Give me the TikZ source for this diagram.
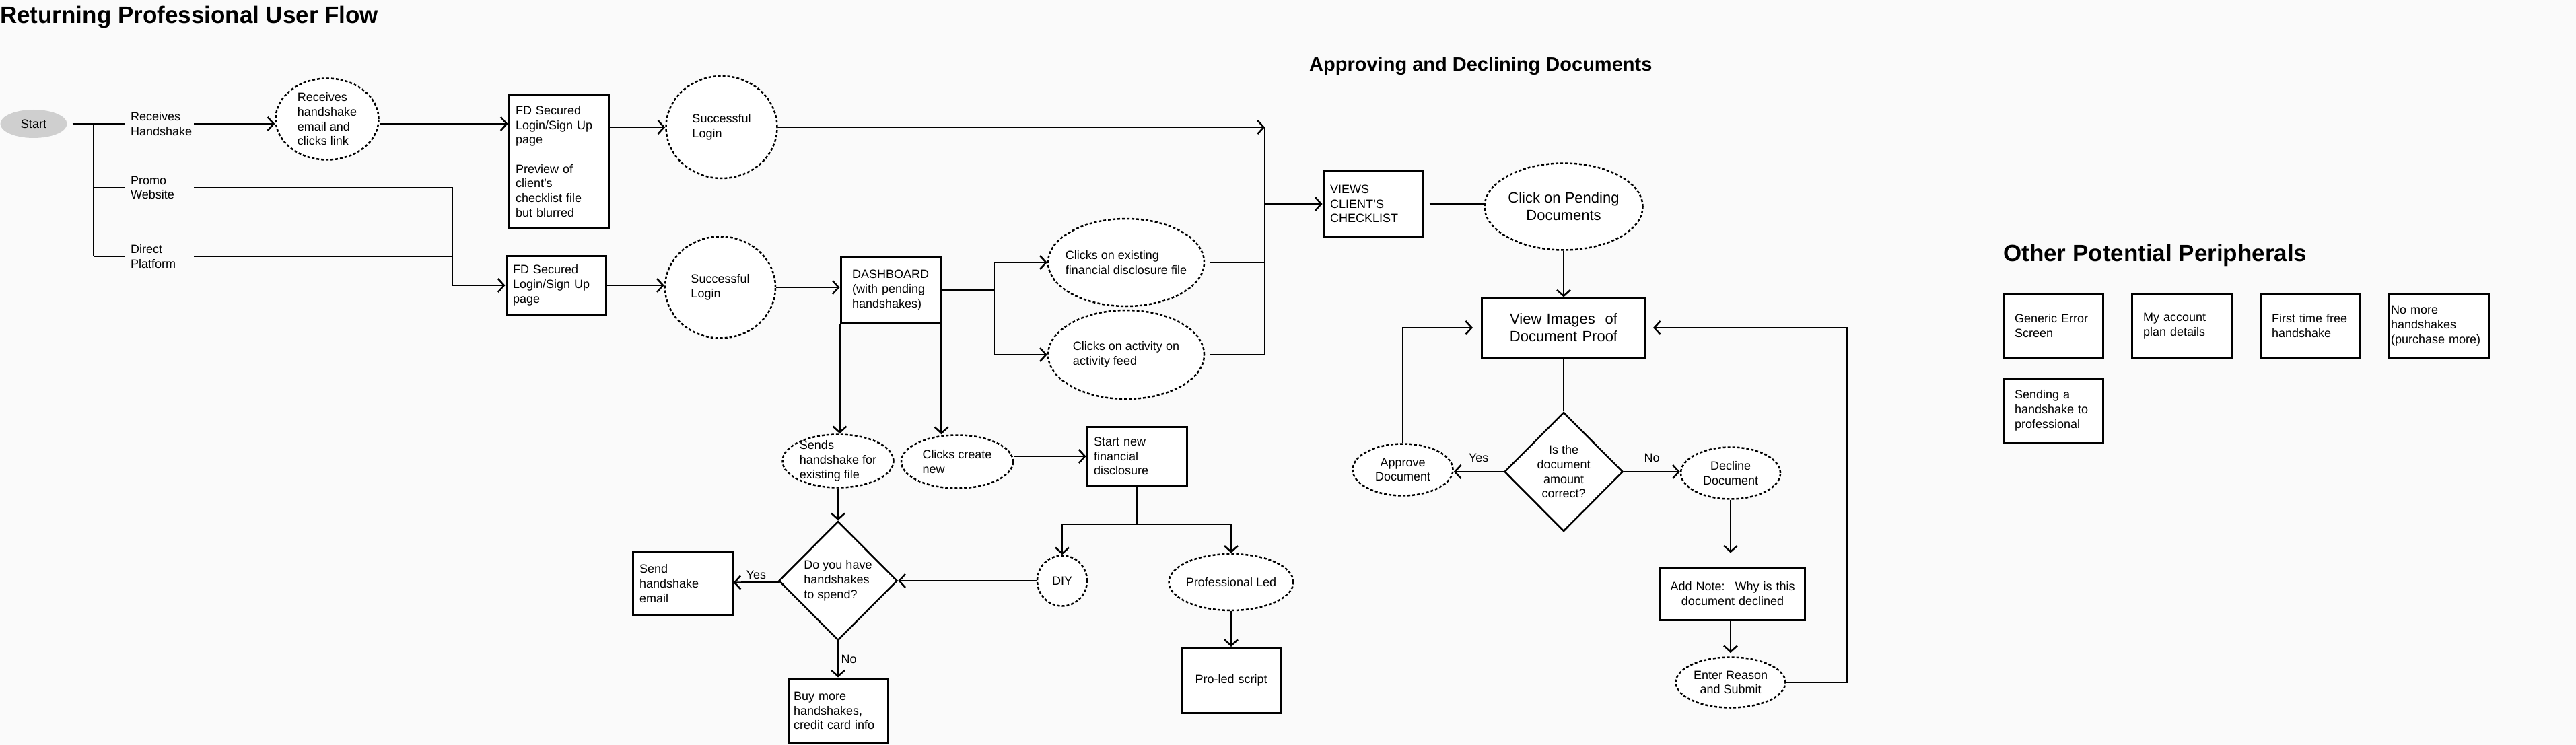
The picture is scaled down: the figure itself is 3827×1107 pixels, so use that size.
\documentclass[tikz,border=0pt]{standalone}
\usepackage{fontspec}
\setmainfont{Liberation Sans}
\usepackage{tikz}
\usetikzlibrary{shapes.geometric, arrows.meta, positioning}
\definecolor{canvas}{RGB}{250,250,250}
\definecolor{startgray}{RGB}{207,207,207}
\tikzstyle{heading} = [font=\bfseries\fontsize{35}{40}\selectfont, anchor=base west, inner sep=0pt]
\tikzstyle{entry} = [align=left, text width=86pt, inner sep=8pt, anchor=west]
\tikzstyle{block} = [rectangle, line width=3pt, draw=black, fill=white, minimum width=148pt, minimum height=97pt, text width=128pt, align=left, inner sep=0pt]
\tikzstyle{action} = [ellipse, line width=2.5pt, dash pattern=on 4pt off 3pt, draw=black, fill=white, align=left, inner sep=0pt]
\tikzstyle{decision} = [diamond, aspect=1, line width=2.5pt, draw=black, fill=white, minimum width=176pt, minimum height=177pt, inner sep=0pt]
\tikzstyle{periph} = [block, minimum height=96pt, text width=114pt]
\tikzstyle{link} = [line width=2.5pt]
\tikzstyle{arrow} = [line width=2.5pt, -{Straight Barb[length=9pt, width=20pt]}]

\begin{document}
\begin{tikzpicture}[x=1pt, y=-1pt, font=\fontsize{18}{21.7}\selectfont]
	\fill[canvas] (0,0) rectangle (3827,1107);
	\useasboundingbox (0,0) rectangle (3827,1107);

	% returning professional flow
	\node (FlowTitle) [heading] at (0,35) {Returning Professional User Flow};
	\node (Start) [ellipse, fill=startgray, minimum width=99pt, minimum height=42pt] at (50,184) {Start};
	\coordinate (StartFork) at (139,184);
	\node (Receives) [entry] at (186,184) {Receives\\Handshake};
	\node (Promo) [entry] at (186,279) {Promo\\Website};
	\node (Direct) [entry] at (186,381) {Direct\\Platform};
	\node (ClicksLink) [action, minimum width=153pt, minimum height=121pt] at (486,177) {Receives\\handshake\\email and\\clicks link};
	\node (LoginPreview) [block, minimum height=198pt] at (830,240) {FD Secured\\Login/Sign Up\\page\\[21.7pt]Preview of\\client's\\checklist file\\but blurred};
	\node (LoginA) [action, minimum width=165pt, minimum height=152pt] at (1072,189) {Successful\\Login};
	\node (LoginPage) [block, minimum height=88pt] at (826,424) {FD Secured\\Login/Sign Up\\page};
	\node (LoginB) [action, minimum width=164pt, minimum height=151pt] at (1070,427) {Successful\\Login};
	\node (Dashboard) [block, text width=114pt] at (1323,431) {DASHBOARD\\(with pending\\handshakes)};
	\node (ExistingFile) [action, inner xsep=-20pt, minimum width=232pt, minimum height=130pt] at (1673,390) {Clicks on existing\\financial disclosure file};
	\node (ActivityFeed) [action, minimum width=232pt, minimum height=132pt] at (1673,527) {Clicks on activity on\\activity feed};
	\node (SendsFile) [action, inner ysep=-4pt, minimum width=165pt, minimum height=79pt] at (1245,685) {Sends\\handshake for\\existing file};
	\node (CreateNew) [action, minimum width=166pt, minimum height=79pt] at (1422,686) {Clicks create\\new};
	\node (StartNew) [block, minimum height=88pt] at (1689,678) {Start new\\financial\\disclosure};
	\node (HaveHandshakes) [decision, align=left] at (1245,863) {Do you have\\handshakes\\to spend?};
	\node (SendEmail) [block, minimum height=95pt] at (1014,867) {Send\\handshake\\email};
	\node (BuyMore) [block, text width=132pt, minimum height=96pt] at (1245,1056) {Buy more\\handshakes,\\credit card info};
	\node (DIY) [action, minimum width=74pt, minimum height=75pt] at (1578,863) {DIY};
	\node (ProLed) [action, inner xsep=-6pt, minimum width=185pt, minimum height=84pt] at (1829,865) {Professional Led};
	\node (ProScript) [block, align=center] at (1829,1011) {Pro-led script};

	% approving and declining
	\node (ApproveTitle) [heading, font=\bfseries\fontsize{29}{33}\selectfont] at (1945,106) {Approving and Declining Documents};
	\node (Checklist) [block] at (2040,303) {VIEWS\\CLIENT'S\\CHECKLIST};
	\node (Pending) [action, align=center, font=\fontsize{22}{26}\selectfont, minimum width=235pt, minimum height=129pt] at (2323,307) {Click on Pending\\Documents};
	\node (ViewImages) [block, align=center, text width=215pt, minimum width=243pt, minimum height=88pt, font=\fontsize{22}{26}\selectfont] at (2323,487) {View Images~ of\\Document Proof};
	\node (IsCorrect) [decision, align=center] at (2323,701) {Is the\\document\\amount\\correct?};
	\node (Approve) [action, align=center, minimum width=149pt, minimum height=77pt] at (2084,698) {Approve\\Document};
	\node (Decline) [action, align=center, minimum width=148pt, minimum height=77pt] at (2571,703) {Decline\\Document};
	\node (AddNote) [block, align=center, text width=200pt, minimum width=215pt, minimum height=78pt] at (2574,882) {Add Note:~ Why is this\\document declined};
	\node (EnterReason) [action, align=center, minimum width=163pt, minimum height=75pt] at (2571,1014) {Enter Reason\\and Submit};
	\coordinate (LoopBack) at (2744,1014);

	\draw [link, shorten <=8pt] (Start) -- (Receives);
	\draw [link] (StartFork) -- (StartFork |- Direct.west);
	\draw [link] (StartFork |- Promo.west) -- (Promo);
	\draw [link] (StartFork |- Direct.west) -- (Direct);
	\draw [arrow] (Receives) -- (Receives -| ClicksLink.west);
	\draw [arrow] (ClicksLink.east |- Receives.east) -- (LoginPreview.west |- Receives.east);
	\draw [arrow] (LoginPreview.east |- LoginA) -- (LoginA);
	\coordinate (MergeTop) at (1879,189);
	\draw [arrow] (LoginA) -- (MergeTop);
	\draw [link] (MergeTop) -- (MergeTop |- ActivityFeed);
	\draw [arrow] (MergeTop |- Checklist) -- (Checklist);
	\coordinate (PromoBend) at (672,279);
	\draw [arrow] (Promo) -- (PromoBend) |- (LoginPage);
	\draw [link] (Direct) -- (Direct -| PromoBend);
	\draw [arrow] (LoginPage) -- (LoginPage -| LoginB.west);
	\draw [arrow] (LoginB) -- (LoginB -| Dashboard.west);
	\coordinate (DashFork) at (1477,431);
	\draw [link] (Dashboard) -- (DashFork);
	\draw [arrow] (DashFork) |- (ExistingFile);
	\draw [arrow] (DashFork) |- (ActivityFeed);
	\draw [link, shorten <=8pt] (ExistingFile) -- (ExistingFile -| MergeTop);
	\draw [link, shorten <=8pt] (ActivityFeed) -- (ActivityFeed -| MergeTop);
	\draw [arrow] (Dashboard.south west) -- (Dashboard.south west |- SendsFile.north);
	\draw [arrow] (Dashboard.south east) -- (Dashboard.south east |- CreateNew.north);
	\draw [arrow] (StartNew.west -| CreateNew.east) -- (StartNew);
	\coordinate (NewSplit) at (1689,779);
	\draw [link] (StartNew) -- (NewSplit);
	\draw [arrow] (NewSplit) -| (DIY);
	\draw [arrow] (NewSplit) -| (ProLed);
	\draw [arrow] (DIY) -- (HaveHandshakes);
	\draw [arrow] (ProLed) -- (ProScript);
	\draw [arrow] (SendsFile) -- (HaveHandshakes);
	\draw [arrow] (HaveHandshakes) -- node[above]{Yes} (SendEmail);
	\draw [arrow] (HaveHandshakes) -- node[right]{No} (BuyMore);

	\draw [link, shorten <=8pt] (Checklist) -- (Checklist -| Pending.west);
	\draw [arrow] (Pending) -- (ViewImages);
	\draw [link] (ViewImages) -- (IsCorrect);
	\draw [arrow] (IsCorrect) -- node[above=10pt]{Yes} (IsCorrect -| Approve.east);
	\draw [arrow] (IsCorrect) -- node[above=10pt]{No} (IsCorrect -| Decline.west);
	\draw [arrow, shorten >=12pt] (Approve) |- (ViewImages);
	\draw [arrow, shorten >=20pt] (Decline) -- (Decline |- AddNote.north);
	\draw [arrow, shorten >=5pt] (AddNote.south -| EnterReason) -- (EnterReason);
	\draw [arrow, shorten >=10pt] (EnterReason) -- (LoopBack) |- (ViewImages);

	% other peripherals
	\node (PeriphTitle) [heading] at (2976,388) {Other Potential Peripherals};
	\node (ErrorScreen) [periph] at (3050,484) {Generic Error\\Screen};
	\node (AccountPlan) [periph, right = 40pt of ErrorScreen] {My account\\plan details};
	\node (FreeHandshake) [periph, right = 40pt of AccountPlan] {First time free\\handshake};
	\node (NoMore) [periph, text width=142pt, right = 40pt of FreeHandshake] {No more\\handshakes\\(purchase more)};
	\node (ToProfessional) [periph, below = 27pt of ErrorScreen] {Sending a\\handshake to\\professional};
\end{tikzpicture}
\end{document}
